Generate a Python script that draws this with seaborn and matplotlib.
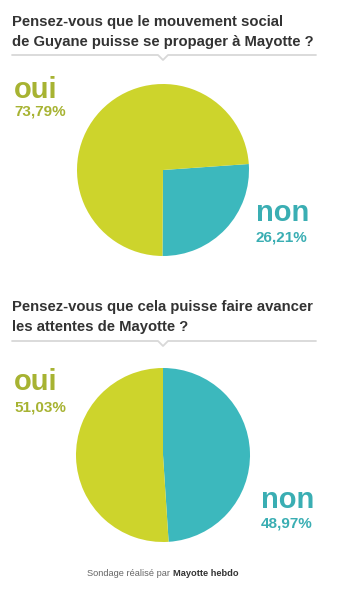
import matplotlib
matplotlib.use("Agg")
import matplotlib.pyplot as plt
from matplotlib.lines import Line2D
from matplotlib import font_manager
import seaborn as sns

# Survey results
answers = ["non", "oui"]
q1_title = ["Pensez-vous que le mouvement social", "de Guyane puisse se propager à Mayotte ?"]
q1_values = [26.21, 73.79]
q2_title = ["Pensez-vous que cela puisse faire avancer", "les attentes de Mayotte ?"]
q2_values = [48.97, 51.03]
q1_labels = ["26,21%", "73,79%"]
q2_labels = ["48,97%", "51,03%"]
footer_plain = "Sondage réalisé par "
footer_bold = "Mayotte hebdo"

sns.set_theme(style="white")
plt.rcParams["font.family"] = ["Liberation Sans", "DejaVu Sans"]

installed = {f.name for f in font_manager.fontManager.ttflist}
narrow = "Liberation Sans Narrow" if "Liberation Sans Narrow" in installed else "Liberation Sans"
footer_size = 7.5 if narrow == "Liberation Sans Narrow" else 6.7

W, H = 350, 601
fig = plt.figure(figsize=(W / 100, H / 100), dpi=100)
fig.patch.set_facecolor("white")

pie_colors = {"non": "#3cb8bd", "oui": "#cdd42c"}
label_colors = {"non": "#3aaeb3", "oui": "#a7b332"}
title_color = "#333333"


def fx(x):
    return x / W


def fy(y):
    return 1 - y / H


def draw_pie(cx, cy, r, values, start):
    ax = fig.add_axes([fx(cx - r), fy(cy + r), 2 * r / W, 2 * r / H])
    ax.pie(values, colors=[pie_colors[a] for a in answers], startangle=start,
           counterclock=False, radius=1, wedgeprops=dict(linewidth=0))
    ax.set_xlim(-1, 1)
    ax.set_ylim(-1, 1)
    ax.set_aspect("equal")
    ax.axis("off")


def draw_header(lines, y1, y2, ysep):
    fig.text(fx(12), fy(y1), lines[0], fontsize=10.7, fontweight="bold",
             color=title_color, va="center", ha="left")
    fig.text(fx(12), fy(y2), lines[1], fontsize=10.7, fontweight="bold",
             color=title_color, va="center", ha="left")
    xs = [fx(12), fx(158), fx(163), fx(168), fx(316)]
    ys = [fy(ysep), fy(ysep), fy(ysep + 5), fy(ysep), fy(ysep)]
    fig.add_artist(Line2D(xs, ys, color="#d8d8d8", lw=1.3,
                          transform=fig.transFigure))


def draw_answer(x, y_word, y_pct, key, pct):
    fig.text(fx(x), fy(y_word), key, fontsize=21, fontweight="bold",
             color=label_colors[key], va="center", ha="left")
    fig.text(fx(x), fy(y_pct), pct, fontsize=11, fontweight="bold",
             color=label_colors[key], va="center", ha="left")


# First question
draw_header(q1_title, 22, 42, 55)
draw_pie(163, 170, 86, q1_values, 4)
draw_answer(14, 90, 111, "oui", q1_labels[1])
draw_answer(256, 213, 238, "non", q1_labels[0])

# Second question
draw_header(q2_title, 307, 327, 341)
draw_pie(163, 455, 87, q2_values, 90)
draw_answer(14, 382, 407, "oui", q2_labels[1])
draw_answer(261, 500, 523, "non", q2_labels[0])

# Source line
t = fig.text(fx(87), fy(574), footer_plain, fontsize=footer_size, color="#666666",
             va="center", ha="left", family=narrow)
fig.canvas.draw()
bb = t.get_window_extent()
fig.text(bb.x1 / fig.dpi / fig.get_figwidth(), fy(574), footer_bold, fontsize=footer_size,
         fontweight="bold", color="#333333", va="center", ha="left", family=narrow)

fig.savefig("out.png", dpi=100, facecolor="white")
